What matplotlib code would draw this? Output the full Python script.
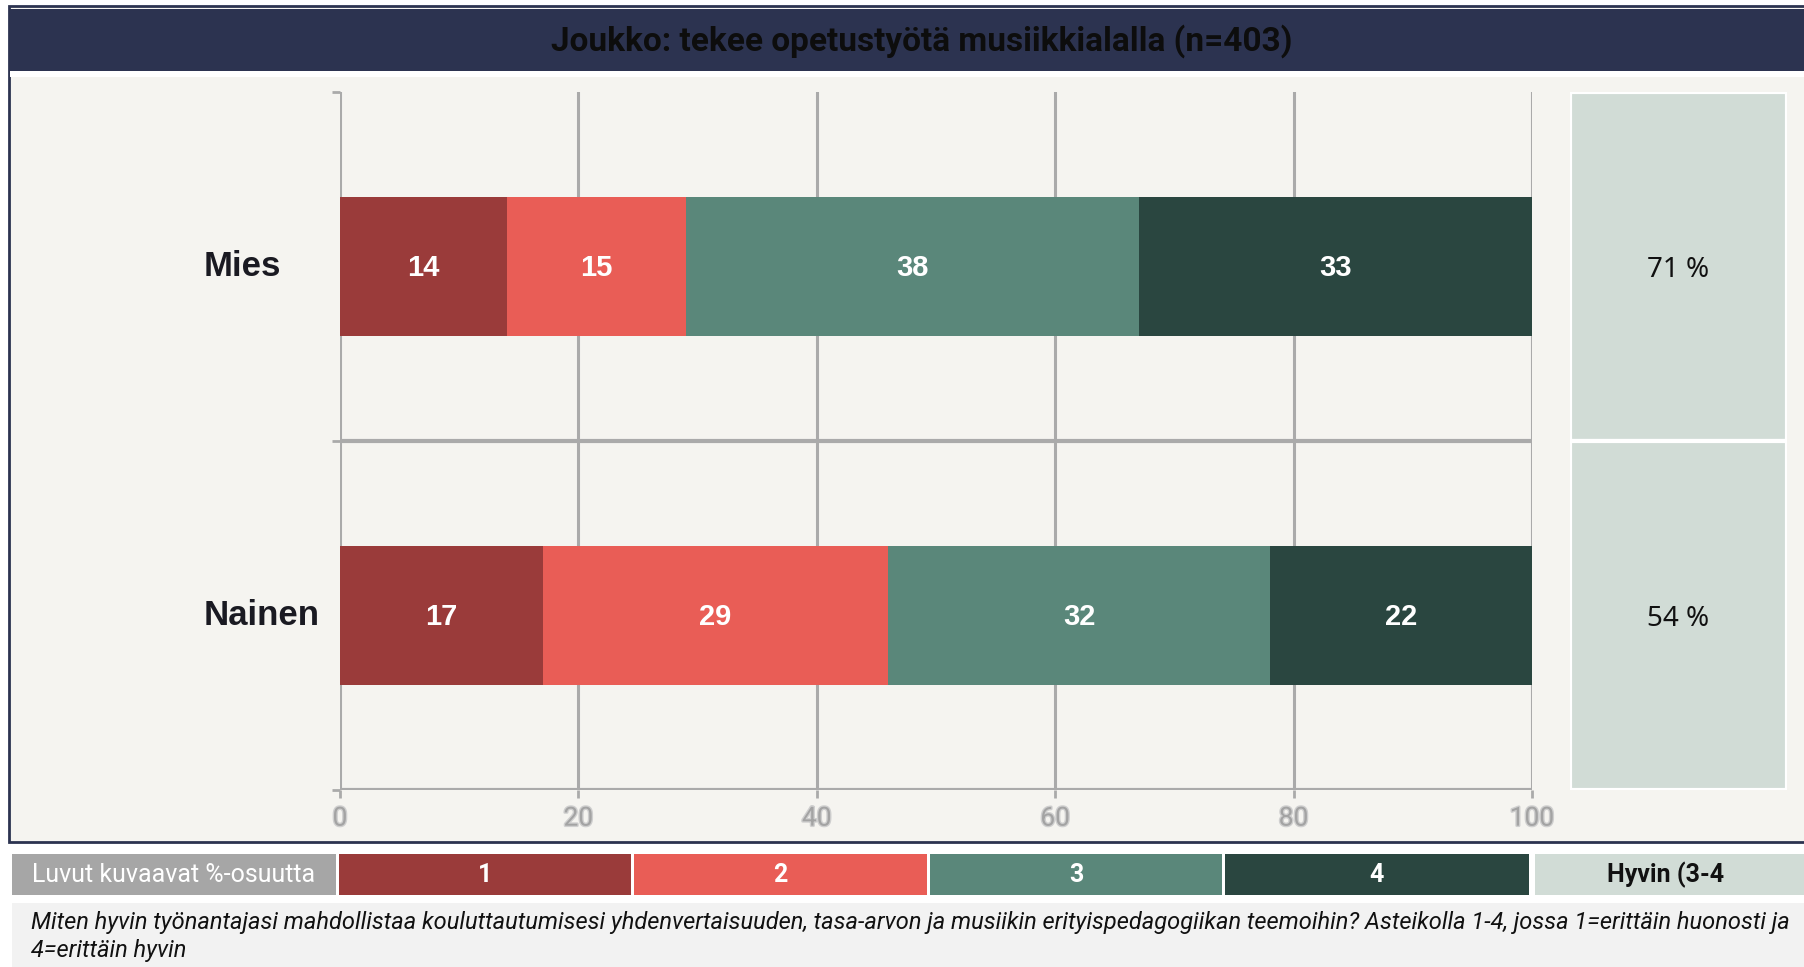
import matplotlib
matplotlib.use("Agg")
import matplotlib.pyplot as plt
import matplotlib.patheffects as pe
from matplotlib.patches import Rectangle
from matplotlib.transforms import blended_transform_factory

## Data
categories = ["Mies", "Nainen"]
scale_labels = ["1", "2", "3", "4"]
mies_values = [14, 15, 38, 33]
nainen_values = [17, 29, 32, 22]
good_share = [71, 54]  # "Hyvin (3-4)" column
x_ticks = [0, 20, 40, 60, 80, 100]

title = "Joukko: tekee opetustyötä musiikkialalla (n=403)"
legend_note = "Luvut kuvaavat %-osuutta"
legend_good = "Hyvin (3-4"
footer_lines = [
    "Miten hyvin työnantajasi mahdollistaa kouluttautumisesi yhdenvertaisuuden, tasa-arvon ja musiikin erityispedagogiikan teemoihin? Asteikolla 1-4, jossa 1=erittäin huonosti ja",
    "4=erittäin hyvin",
]

## Style
colors = ["#9a3b3a", "#e95d56", "#5a877a", "#2a4640"]
good_color = "#d1dcd6"
navy = "#2c3350"
panel_bg = "#f5f4f0"
grid_gray = "#aaaaaa"
narrow = ["Liberation Sans Narrow", "Roboto", "DejaVu Sans"]
arial = ["Liberation Sans", "DejaVu Sans"]

W, H = 1804, 967
fig = plt.figure(figsize=(W / 100, H / 100), dpi=100, facecolor="white")


def px_rect(x0, y0, x1, y1, **kw):
    # rectangle given in pixel coords (y from top)
    r = Rectangle((x0 / W, 1 - y1 / H), (x1 - x0) / W, (y1 - y0) / H,
                  transform=fig.transFigure, **kw)
    fig.add_artist(r)
    return r


# frame, title bar and plot background
px_rect(9, 6, W + 5, 842, facecolor=panel_bg, edgecolor=navy, linewidth=2, zorder=0)
px_rect(10, 9, W + 5, 71, facecolor=navy, edgecolor="none", zorder=1)
px_rect(10, 71, W + 5, 77, facecolor="white", edgecolor="none", zorder=1)
fig.text(922 / W, 1 - 41 / H, title, ha="center", va="center", fontsize=24,
         fontweight="bold", color="#0d0d0d", family=narrow)

## Main stacked bar axes
ax_l, ax_r, ax_t, ax_b = 340, 1532, 92, 790
ax = fig.add_axes([ax_l / W, 1 - ax_b / H, (ax_r - ax_l) / W, (ax_b - ax_t) / H])
ax.set_facecolor("none")

y_pos = [1.5, 0.5]
rows = [mies_values, nainen_values]
for yi, vals in zip(y_pos, rows):
    left = 0
    for v, c in zip(vals, colors):
        ax.barh(yi, v, left=left, height=0.4, color=c, edgecolor="none", zorder=3)
        ax.text(left + v / 2, yi - 0.005, str(v), ha="center", va="center", color="white",
                fontsize=21, fontweight="bold", family=arial, zorder=4)
        left += v

ax.set_xlim(0, 100)
ax.set_ylim(0, 2)
for x in x_ticks:
    ax.axvline(x, color=grid_gray, linewidth=2.2, zorder=1)
for y in [0, 1]:
    ax.axhline(y, color=grid_gray, linewidth=3, zorder=2)
for s in ["top", "right", "bottom", "left"]:
    ax.spines[s].set_visible(False)
ax.set_xticks(x_ticks)
ax.set_xticklabels([str(t) for t in x_ticks], fontsize=19, color="#a3a3a3",
                   family=narrow)
for lbl in ax.get_xticklabels():
    lbl.set_path_effects([pe.withStroke(linewidth=2, foreground="#cfcfcf")])
ax.tick_params(axis="x", length=6, width=2, color=grid_gray, pad=6)
ax.set_yticks([0, 1, 2])
ax.set_yticklabels([])
ax.tick_params(axis="y", length=6, width=2, color=grid_gray)

trans = blended_transform_factory(fig.transFigure, ax.transData)
for yi, name in zip(y_pos, categories):
    ax.text(204 / W, yi, name, transform=trans, ha="left", va="center",
            fontsize=25, fontweight="bold", color="#1a1a22", family=arial)

## Right column with share of 3-4
ax2 = fig.add_axes([1570 / W, 1 - ax_b / H, 217 / W, (ax_b - ax_t) / H])
ax2.set_facecolor("none")
ax2.barh(y_pos, [1, 1], height=1, color=good_color, edgecolor="white", linewidth=3)
for yi, g in zip(y_pos, good_share):
    ax2.text(0.5, yi - 0.01, f"{g} %", ha="center", va="center", fontsize=20,
             color="#111111", family=["Noto Sans", "DejaVu Sans"])
ax2.set_xlim(0, 1)
ax2.set_ylim(0, 2)
ax2.axis("off")

## Legend row
ly0, ly1 = 854, 895
ymid = 1 - (ly0 + ly1) / 2 / H
px_rect(12, ly0, 336, ly1, facecolor="#a6a6a6", edgecolor="none")
fig.text(174 / W, ymid, legend_note, ha="center", va="center", fontsize=18,
         color="white", family=narrow)
cell_edges = [339, 634, 930, 1225, 1532]  # legend cell borders in pixels
for i, (lab, c) in enumerate(zip(scale_labels, colors)):
    x0, x1 = cell_edges[i], cell_edges[i + 1] - 3
    px_rect(x0, ly0, x1, ly1, facecolor=c, edgecolor="none")
    fig.text((x0 + x1) / 2 / W, ymid, lab, ha="center", va="center", fontsize=18,
             fontweight="bold", color="white", family=narrow)
px_rect(1535, ly0, W + 5, ly1, facecolor=good_color, edgecolor="none")
fig.text(1666 / W, ymid, legend_good, ha="center", va="center", fontsize=18,
         fontweight="bold", color="#111111", family=narrow)

## Footer question
px_rect(12, 903, W + 5, H + 5, facecolor="#f2f2f2", edgecolor="none")
fig.text(31 / W, 1 - 923 / H, footer_lines[0], ha="left", va="center", fontsize=17,
         style="italic", color="#111111", family=narrow)
fig.text(31 / W, 1 - 950 / H, footer_lines[1], ha="left", va="center", fontsize=17,
         style="italic", color="#111111", family=narrow)

fig.savefig("out.png", dpi=100, facecolor=fig.get_facecolor())
